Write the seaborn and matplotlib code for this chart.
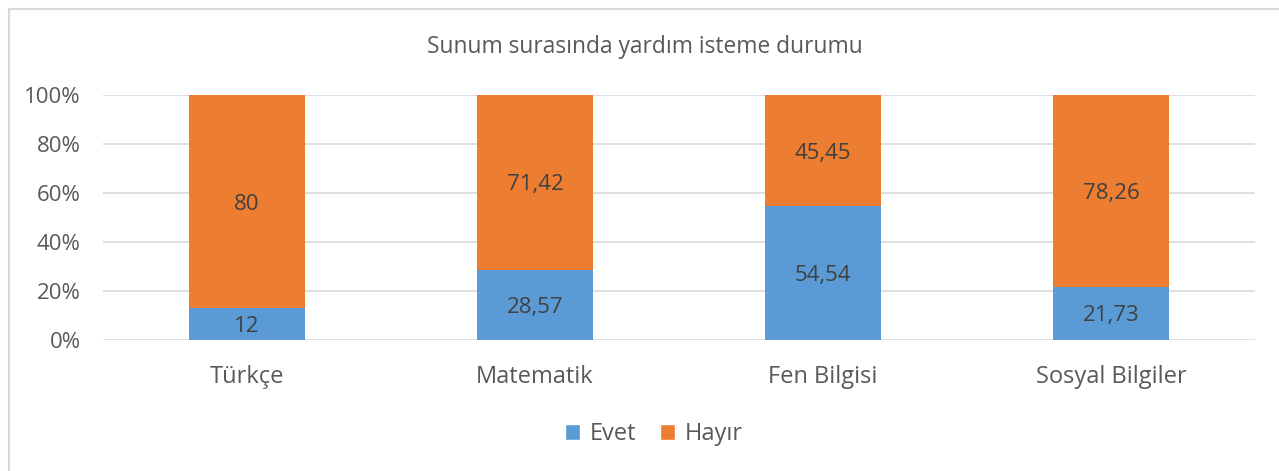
import matplotlib

matplotlib.use("Agg")
import matplotlib.pyplot as plt
import numpy as np
import pandas as pd
import seaborn as sns
from matplotlib.patches import Patch, Rectangle

categories = ["Türkçe", "Matematik", "Fen Bilgisi", "Sosyal Bilgiler"]
evet = [12, 28.57, 54.54, 21.73]
hayir = [80, 71.42, 45.45, 78.26]
evet_labels = ["12", "28,57", "54,54", "21,73"]
hayir_labels = ["80", "71,42", "45,45", "78,26"]
yticks = [0, 20, 40, 60, 80, 100]

BLUE = "#5B9BD5"
ORANGE = "#ED7D31"
TEXT = "#595959"
GRID = "#D9D9D9"

sns.set_theme(style="white")
plt.rcParams["font.family"] = ["Open Sans", "DejaVu Sans"]

df = pd.DataFrame({"cat": categories, "evet": evet, "hayir": hayir})
total = df["evet"] + df["hayir"]
df["evet_pct"] = df["evet"] / total * 100
df["top_pct"] = (df["evet"] + df["hayir"]) / total * 100

fig = plt.figure(figsize=(12.79, 4.71), dpi=100)
ax = fig.add_axes([103 / 1279, 1 - 340 / 471, (1255 - 103) / 1279, (340 - 95) / 471])

sns.barplot(data=df, x="cat", y="top_pct", color=ORANGE, width=0.4, saturation=1,
            linewidth=0, ax=ax, zorder=2)
sns.barplot(data=df, x="cat", y="evet_pct", color=BLUE, width=0.4, saturation=1,
            linewidth=0, ax=ax, zorder=3)

for i, row in df.iterrows():
    ax.text(i, row["evet_pct"] / 2, evet_labels[i], ha="center", va="center_baseline",
            fontsize=16, color="#404040", zorder=4)
    ax.text(i, (row["evet_pct"] + row["top_pct"]) / 2, hayir_labels[i], ha="center",
            va="center_baseline", fontsize=16, color="#404040", zorder=4)

ax.set_ylim(0, 100)
ax.set_xlim(-0.5, len(categories) - 0.5)
ax.set_yticks(yticks)
ax.set_yticklabels([f"{t}%" for t in yticks])
ax.yaxis.grid(True, color=GRID, linewidth=1.2, zorder=0)
ax.set_axisbelow(True)
for s in ax.spines.values():
    s.set_visible(False)
ax.tick_params(axis="y", length=0, pad=16, labelsize=16, labelcolor=TEXT)
ax.tick_params(axis="x", length=0, pad=18, labelsize=17, labelcolor=TEXT)
ax.set_xlabel("")
ax.set_ylabel("")

fig.text(645 / 1279, 1 - 47 / 471, "Sunum surasında yardım isteme durumu",
         ha="center", va="center", fontsize=16.4, color=TEXT)

handles = [Patch(facecolor=BLUE, label="Evet"), Patch(facecolor=ORANGE, label="Hayır")]
fig.legend(handles=handles, loc="center", bbox_to_anchor=(654 / 1279, 1 - 434 / 471),
           ncol=2, frameon=False, fontsize=17, labelcolor=TEXT, handlelength=0.65,
           handleheight=0.65, handletextpad=0.4, columnspacing=1.0)

fig.patches.append(Rectangle((9 / 1279, -0.1), 1.2, 1 - 9 / 471 + 0.1,
                             transform=fig.transFigure, fill=False,
                             edgecolor=GRID, linewidth=1.5))

fig.savefig("out.png", dpi=100)
